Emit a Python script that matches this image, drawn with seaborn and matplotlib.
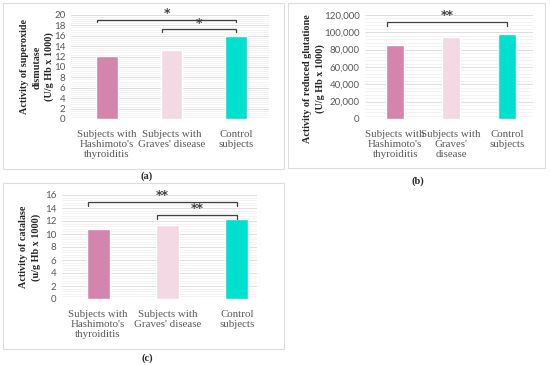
import matplotlib
matplotlib.use("Agg")
import matplotlib.pyplot as plt
import pandas as pd
import seaborn as sns
from matplotlib.patches import Rectangle
from matplotlib.ticker import AutoMinorLocator, FuncFormatter, MultipleLocator

sns.set_theme(style="white")

groups_a = ["Subjects with\nHashimoto's\nthyroiditis", "Subjects with\nGraves' disease", "Control\nsubjects"]
groups_b = ["Subjects with\nHashimoto's\nthyroiditis", "Subjects with\nGraves'\ndisease", "Control\nsubjects"]
sod = [12.2, 13.3, 15.9]
gsh = [85000, 94500, 98500]
cat = [10.8, 11.4, 12.3]
colors = ["#D385AE", "#F3D9E4", "#00E0CF"]

W, H = 550, 365
SERIF = "Liberation Serif"
SANS = "Lato"
GREY = "#595959"


def px(l, r, t, b):
    return [l / W, 1 - b / H, (r - l) / W, (b - t) / H]


def panel(fig, rect, labels, values, ylim, step, ylabel, lab_xy, xlim, brackets, thousands=False):
    ax = fig.add_axes(rect)
    df = pd.DataFrame({"group": labels, "value": values})
    sns.barplot(data=df, x="group", y="value", hue="group", palette=colors,
                width=0.33, legend=False, ax=ax, saturation=1)
    ax.set_ylim(*ylim)
    ax.set_xlim(*xlim)
    ax.yaxis.set_major_locator(MultipleLocator(step))
    ax.yaxis.set_minor_locator(AutoMinorLocator(5))
    ax.grid(axis="y", which="major", color="#D9D9D9", lw=0.6)
    ax.grid(axis="y", which="minor", color="#EEEEEE", lw=0.5)
    ax.set_axisbelow(True)
    for s in ax.spines.values():
        s.set_visible(False)
    ax.set_xlabel("")
    ax.set_ylabel(ylabel, family=SERIF, fontsize=7.3, fontweight="bold", color="#262626",
                  linespacing=1.45)
    ax.yaxis.label.set_va("center")
    ax.yaxis.set_label_coords(*lab_xy)
    ax.tick_params(axis="both", which="both", length=0)
    ax.tick_params(axis="x", pad=8)
    ax.tick_params(axis="y", pad=4)
    for t in ax.get_xticklabels():
        t.set_fontfamily(SERIF)
        t.set_fontsize(7.8)
        t.set_color(GREY)
        t.set_linespacing(1.15)
    if thousands:
        ax.yaxis.set_major_formatter(FuncFormatter(lambda v, p: f"{int(v):,}"))
    for t in ax.get_yticklabels():
        t.set_fontfamily(SANS)
        t.set_fontsize(7)
        t.set_color(GREY)
    for i, j, y, drop, star, sy in brackets:
        x0, x1 = i - 0.15, j
        ax.plot([x0, x0, x1, x1], [y - drop, y, y, y - drop], color="#404040", lw=0.9,
                clip_on=False, solid_joinstyle="miter")
        ax.text((x0 + x1) / 2, sy, star, ha="center", va="center",
                fontsize=9, fontweight="bold", color="#404040", family="DejaVu Sans")
    return ax


fig = plt.figure(figsize=(W / 100, H / 100), dpi=100)

# panel frames
for (l, t, r, b) in [(3, 3, 284, 169), (288, 3, 545, 168), (3, 183, 284, 349)]:
    fig.patches.append(Rectangle((l / W, 1 - b / H), (r - l) / W, (b - t) / H,
                                 transform=fig.transFigure, fill=False,
                                 edgecolor="#DDDDDD", lw=0.8))

panel(fig, px(71, 269, 15, 119), groups_a, sod, (0, 20), 2,
      "Activity of superoxide\ndismutase\n(U/g Hb x 1000)", (-0.17, 0.5), (-0.56, 2.51),
      [(0, 2, 19.1, 0.5, "*", 20.2), (1, 2, 17.3, 0.6, "*", 18.4)])
panel(fig, px(365, 533, 15, 119), groups_b, gsh, (0, 120000), 20000,
      "Activity of reduced glutatione\n(U/g Hb x 1000)", (-0.304, 0.385), (-0.54, 2.46),
      [(0, 2, 112000, 4500, "**", 119000)], thousands=True)
panel(fig, px(62, 257, 195, 299), groups_a, cat, (0, 16), 2,
      "Activity of catalase\n(u/g Hb x 1000)", (-0.164, 0.5), (-0.52, 2.29),
      [(0, 2, 14.9, 0.6, "**", 15.9), (1, 2, 12.9, 0.6, "**", 13.9)])

for x, y, s in [(147, 176, "(a)"), (418, 181, "(b)"), (147, 358, "(c)")]:
    fig.text(x / W, 1 - y / H, s, ha="center", va="center", family=SERIF,
             fontsize=7.5, fontweight="bold", color="#262626")

fig.savefig("out.png", dpi=100)
